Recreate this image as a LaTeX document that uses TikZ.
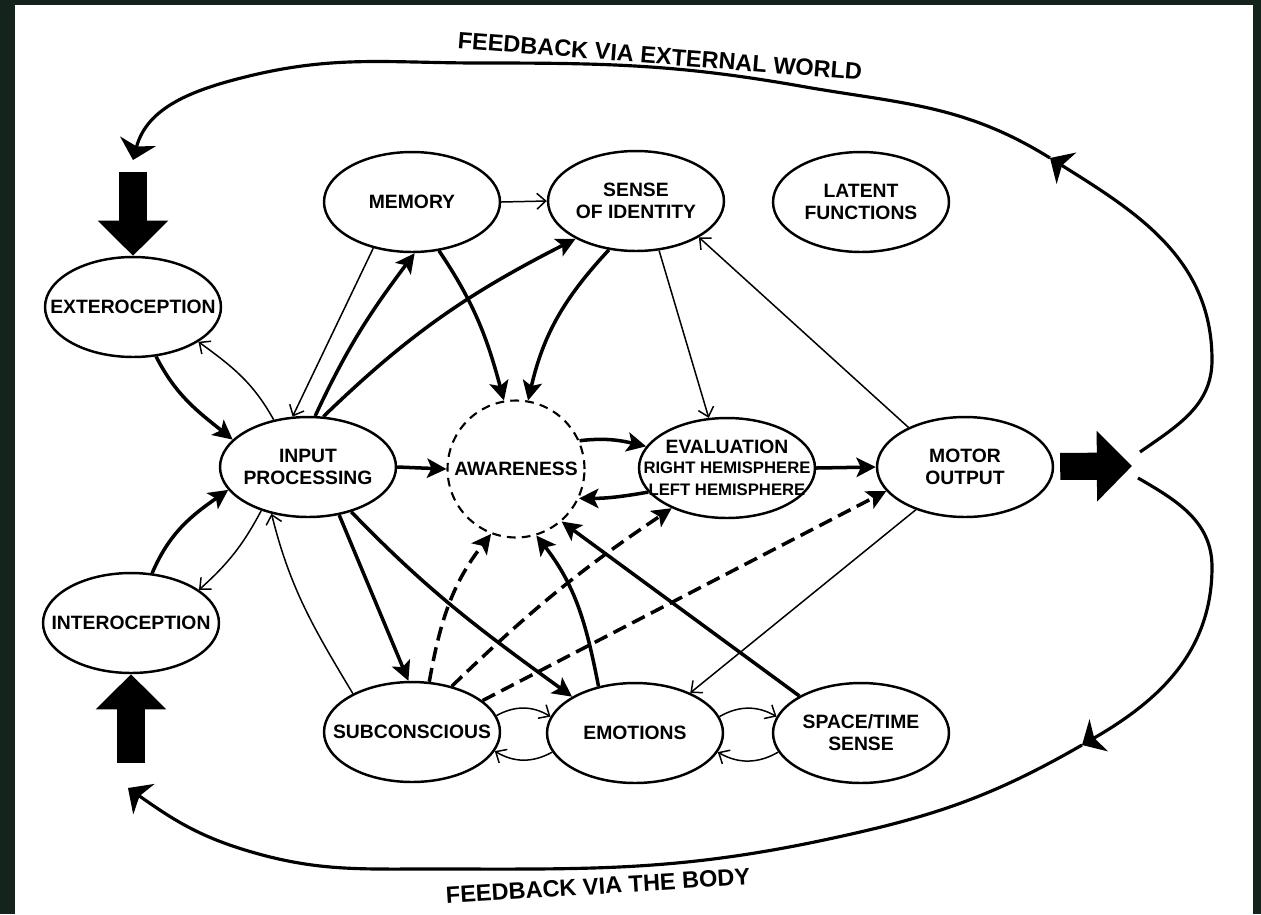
\documentclass[tikz,border=0pt]{standalone}
\usepackage{fontspec}
\usepackage{tikz}
\usetikzlibrary{arrows.meta,shapes.geometric}
\newfontfamily\diagsans{Liberation Sans}
\newcommand\facfont{\diagsans\bfseries\fontsize{11}{12.5}\selectfont}
\newcommand\subfont{\diagsans\bfseries\fontsize{9.5}{10.5}\selectfont}
\newcommand\fbfont{\diagsans\bfseries\fontsize{13.4}{16}\selectfont}
\definecolor{framedark}{RGB}{20,35,28}
\tikzset{
  faculty/.style={ellipse,draw,line width=1.4pt,minimum width=3.52cm,minimum height=2cm,inner xsep=-14pt,inner ysep=0pt,align=center,font=\facfont},
  hazy/.style={circle,draw,line width=1.2pt,dash pattern=on 5pt off 3.5pt,minimum size=2.74cm,inner sep=0pt,font=\facfont},
  strong/.style={line width=2pt,-{Stealth[length=11pt,width=11pt,inset=2.5pt]}},
  weak/.style={line width=0.85pt,-{Straight Barb[length=5pt,width=9pt]}},
  guess/.style={strong,dash pattern=on 8pt off 4pt},
  feedback/.style={line width=1.8pt,-{Stealth[length=11pt,width=21pt,inset=3pt]}},
  fat/.style={line width=15.4pt,-{Triangle[length=20pt,width=39pt]}}
}

\begin{document}
\begin{tikzpicture}[x=0.02cm,y=0.02cm]
            \useasboundingbox (0,0) rectangle (1261,-914);
            \fill[framedark] (0,0) rectangle (1261,-914);
            \fill[white] (15,-5) rectangle (1253,-914);
            \node[faculty] (memory) at (412,-202) {MEMORY};
            \node[faculty] (sense) at (636,-201) {SENSE\\OF IDENTITY};
            \node[faculty] (latent) at (861,-202) {LATENT\\FUNCTIONS};
            \node[faculty] (extero) at (133,-307) {EXTEROCEPTION};
            \node[faculty] (input) at (308,-467) {INPUT\\PROCESSING};
            \node[hazy] (aware) at (516,-469) {AWARENESS};
            \node[faculty] (eval) at (727,-468) {EVALUATION\\[-1pt]\subfont RIGHT HEMISPHERE\\\subfont LEFT HEMISPHERE};
            \node[faculty] (motor) at (965,-467) {MOTOR\\OUTPUT};
            \node[faculty] (intero) at (131,-623) {INTEROCEPTION};
            \node[faculty] (subcon) at (412,-732) {SUBCONSCIOUS};
            \node[faculty] (emotions) at (635,-733) {EMOTIONS};
            \node[faculty] (spacetime) at (861,-733) {SPACE/TIME\\SENSE};
            \node[font=\fbfont,rotate=-4.5] (worldlabel) at (660,-56) {FEEDBACK VIA EXTERNAL WORLD};
            \node[font=\fbfont,rotate=3.5] (bodylabel) at (598,-886) {FEEDBACK VIA THE BODY};
            \coordinate (extin) at (133,-172);
            \coordinate (intin) at (131,-763);
            \coordinate (motout) at (1132,-466);
            \coordinate (topfrom) at (1140,-452);
            \coordinate (topmid) at (1050,-158);
            \coordinate (topto) at (133,-160);
            \coordinate (botfrom) at (1138,-478);
            \coordinate (botmid) at (1082,-745);
            \coordinate (botto) at (128,-788);
            \draw[fat] (extin) -- (extero);
            \draw[fat] (intin) -- (intero);
            \draw[fat,shorten <=0.12cm] (motor) -- (motout);
            \draw[feedback] (topfrom) to[out=35,in=-90] (1212,-360) to[out=90,in=-32] (topmid);
            \draw[feedback] (topmid) to[out=148,in=-10] (800,-86) to[out=170,in=0] (480,-63) to[out=180,in=14] (245,-77) to[out=194,in=75] (topto);
            \draw[feedback] (botfrom) to[out=-30,in=90] (1212,-567) to[out=-90,in=30] (botmid);
            \draw[feedback] (botmid) to[out=210,in=12] (824,-840) to[out=192,in=0] (430,-869) to[out=180,in=-17] (245,-850) to[out=163,in=-35] (botto);
            \draw[weak] (memory.east) -- (sense.west);
            \draw[strong] (extero.-65) to[out=-63,in=141] (input.160);
            \draw[weak] (input.126) to[out=119,in=-36] (extero.-28);
            \draw[strong] (intero.67) to[out=67,in=-145] (input.196);
            \draw[weak] (input.223) to[out=242,in=42] (intero.26);
            \draw[weak] (memory.-130) -- (input.107);
            \draw[strong] (input.82) to[out=65,in=-127] (memory.-87);
            \draw[strong] (input.73) to[out=44,in=-153] (sense.-148);
            \draw[strong] (memory.-61) to[out=-56,in=105] (aware.100);
            \draw[strong] (sense.-119) to[out=-133,in=77] (aware.80);
            \draw[weak] (sense.-65) -- (eval.110);
            \draw[weak] (motor.145) -- (sense.-30);
            \draw[strong] (input.east) -- (aware.west);
            \draw[strong] (aware.24) to[out=7,in=167] (eval.165);
            \draw[strong] (eval.197) to[out=190,in=0] (aware.-25);
            \draw[strong] (eval.east) -- (motor.west);
            \draw[guess] (subcon.71) to[out=80,in=-128] (aware.-111);
            \draw[guess] (subcon.49) to[bend left=5] (eval.-144);
            \draw[guess] (subcon.24) -- (motor.-163);
            \draw[strong] (input.-57) -- (subcon.94);
            \draw[strong] (input.-46) to[out=-46,in=144] (emotions.150);
            \draw[weak] (subcon.147) to[out=121,in=-76] (input.-128);
            \draw[strong] (emotions.128) to[out=101,in=-52] (aware.-73);
            \draw[strong] (spacetime.149) -- (aware.-49);
            \draw[weak] (motor.-139) -- (emotions.36);
            \foreach \a/\b in {subcon/emotions,emotions/spacetime} {
                \draw[weak] (\a.11) to[bend left=30] (\b.169);
                \draw[weak] (\b.-167) to[bend left=30] (\a.-13);
            }
\end{tikzpicture}
\end{document}
